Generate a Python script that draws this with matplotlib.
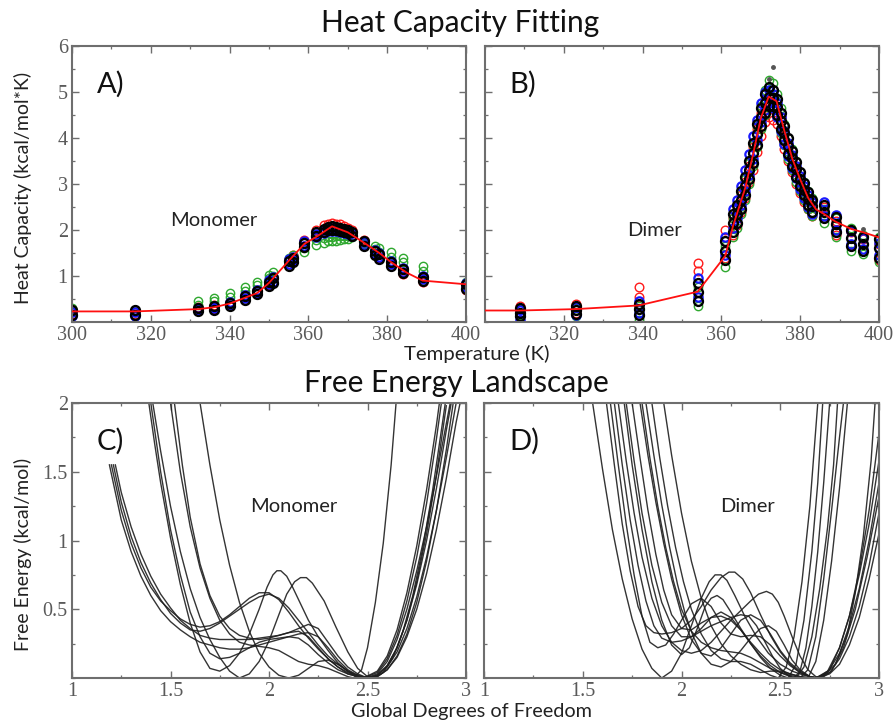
import numpy as np
import matplotlib
matplotlib.use("Agg")
import matplotlib.pyplot as plt
from matplotlib.ticker import MultipleLocator, FixedLocator, NullFormatter

# ---- heat capacity, monomer ----
t_mono = [300, 316, 332, 336, 340, 344, 347, 350, 351, 355, 356, 359, 362, 364,
          365, 366, 367, 368, 369, 370, 371, 374, 377, 378, 381, 384, 389, 400]
mono_black = [[0.26, 0.25, 0.31, 0.35, 0.42, 0.56, 0.68, 0.88, 0.95, 1.33, 1.40, 1.72, 1.95, 2.03,
               2.06, 2.08, 2.07, 2.05, 2.03, 2.00, 1.95, 1.75, 1.55, 1.48, 1.30, 1.15, 0.98, 0.82],
              [0.15, 0.16, 0.24, 0.27, 0.35, 0.48, 0.60, 0.78, 0.85, 1.22, 1.30, 1.62, 1.88, 1.96,
               2.00, 2.01, 2.00, 1.98, 1.96, 1.93, 1.88, 1.66, 1.45, 1.38, 1.22, 1.06, 0.90, 0.72]]
mono_blue = [[0.22, 0.21, 0.30, 0.33, 0.44, 0.58, 0.70, 0.92, 0.98, 1.36, 1.42, 1.75, 1.92, 2.00,
              2.04, 2.05, 2.05, 2.03, 2.01, 1.98, 1.93, 1.73, 1.57, 1.50, 1.33, 1.18, 1.00, 0.85],
             [0.12, 0.14, 0.26, 0.30, 0.38, 0.52, 0.64, 0.82, 0.88, 1.26, 1.34, 1.66, 1.85, 1.93,
              1.97, 1.98, 1.97, 1.95, 1.94, 1.91, 1.87, 1.68, 1.48, 1.41, 1.25, 1.09, 0.93, 0.75]]
mono_green = [[0.30, 0.27, 0.45, 0.53, 0.62, 0.76, 0.88, 1.02, 1.08, 1.40, 1.45, 1.52, 1.68, 1.72,
               1.75, 1.76, 1.77, 1.78, 1.80, 1.81, 1.84, 1.72, 1.65, 1.60, 1.52, 1.40, 1.22, 0.88],
              [0.25, 0.22, 0.38, 0.45, 0.55, 0.68, 0.80, 0.95, 1.00, 1.35, 1.38, 1.60, 1.78, 1.82,
               1.84, 1.85, 1.86, 1.87, 1.88, 1.88, 1.86, 1.70, 1.58, 1.52, 1.42, 1.30, 1.10, 0.80]]
mono_red = [[0.28, 0.27, 0.33, 0.36, 0.44, 0.58, 0.70, 0.90, 0.97, 1.38, 1.45, 1.78, 2.00, 2.10,
             2.13, 2.15, 2.14, 2.12, 2.09, 2.05, 2.00, 1.78, 1.55, 1.48, 1.30, 1.14, 0.96, 0.85],
            [0.18, 0.18, 0.25, 0.28, 0.36, 0.48, 0.60, 0.80, 0.86, 1.25, 1.32, 1.65, 1.90, 1.98,
             2.02, 2.04, 2.03, 2.01, 1.99, 1.95, 1.90, 1.68, 1.46, 1.40, 1.22, 1.05, 0.88, 0.70]]
fit_t_mono = [300, 316, 332, 336, 340, 344, 347, 350, 355, 359, 362, 366, 370, 374, 378, 381, 385, 389, 400]
fit_cp_mono = [0.23, 0.23, 0.28, 0.32, 0.40, 0.53, 0.63, 0.85, 1.33, 1.70, 1.85, 2.08, 1.95, 1.73,
               1.50, 1.30, 1.07, 0.90, 0.82]

# ---- heat capacity, dimer ----
t_dim = [309, 323, 339, 354, 361, 363, 364, 365, 366, 367, 368, 369, 370, 371, 372, 373,
         374, 375, 376, 377, 378, 379, 380, 381, 382, 383, 386, 389, 393, 396, 400]
dim_black = [[0.30, 0.35, 0.40, 0.85, 1.75, 2.35, 2.55, 2.85, 3.15, 3.50, 3.90, 4.30, 4.65, 4.95, 5.10, 5.05,
              4.85, 4.55, 4.25, 4.00, 3.72, 3.48, 3.25, 3.02, 2.82, 2.65, 2.55, 2.28, 2.00, 1.85, 1.80],
             [0.20, 0.26, 0.28, 0.65, 1.55, 2.15, 2.35, 2.65, 2.95, 3.30, 3.68, 4.08, 4.45, 4.75, 4.90, 4.88,
              4.68, 4.38, 4.10, 3.82, 3.56, 3.32, 3.10, 2.88, 2.68, 2.52, 2.40, 2.12, 1.82, 1.70, 1.60],
             [0.12, 0.18, 0.15, 0.45, 1.35, 1.95, 2.15, 2.45, 2.75, 3.10, 3.45, 3.85, 4.25, 4.55, 4.70, 4.70,
              4.50, 4.20, 3.95, 3.65, 3.40, 3.15, 2.95, 2.75, 2.55, 2.40, 2.25, 1.95, 1.65, 1.55, 1.40]]
dim_blue = [[0.25, 0.32, 0.45, 0.95, 1.85, 2.45, 2.65, 2.95, 3.30, 3.65, 4.05, 4.40, 4.75, 5.00, 5.05, 4.95,
             4.75, 4.45, 4.15, 3.90, 3.62, 3.40, 3.18, 2.95, 2.75, 2.60, 2.60, 2.32, 1.98, 1.82, 1.72],
            [0.05, 0.15, 0.20, 0.55, 1.45, 2.05, 2.25, 2.55, 2.85, 3.20, 3.55, 3.95, 4.35, 4.60, 4.75, 4.65,
             4.45, 4.15, 3.88, 3.60, 3.35, 3.12, 2.90, 2.70, 2.50, 2.35, 2.30, 2.00, 1.70, 1.58, 1.45]]
dim_green = [[0.28, 0.30, 0.35, 0.75, 1.65, 2.25, 2.50, 2.80, 3.10, 3.45, 3.85, 4.25, 4.70, 5.05, 5.25, 5.20,
              4.95, 4.65, 4.30, 4.00, 3.75, 3.50, 3.25, 3.05, 2.85, 2.70, 2.45, 2.25, 2.05, 1.90, 1.85],
             [0.15, 0.12, 0.05, 0.35, 1.20, 1.85, 2.05, 2.35, 2.65, 3.00, 3.40, 3.80, 4.20, 4.50, 4.70, 4.65,
              4.45, 4.10, 3.85, 3.55, 3.30, 3.05, 2.85, 2.65, 2.45, 2.30, 2.15, 1.85, 1.55, 1.48, 1.30]]
dim_red = [[0.35, 0.40, 0.75, 1.28, 2.00, 2.25, 2.50, 2.75, 3.05, 3.40, 3.80, 4.20, 4.55, 4.80, 4.90, 4.85,
            4.70, 4.45, 4.10, 3.80, 3.55, 3.35, 3.10, 2.85, 2.65, 2.50, 2.50, 2.20, 1.95, 1.80, 1.70],
           [0.00, 0.20, 0.55, 1.10, 1.40, 1.90, 2.10, 2.40, 2.70, 3.05, 3.30, 3.70, 4.05, 4.35, 4.45, 4.40,
            4.30, 4.05, 3.75, 3.50, 3.25, 3.00, 2.80, 2.60, 2.45, 2.30, 2.25, 1.90, 1.68, 1.55, 1.35]]
dim_extra_t = [372, 373, 396]
dim_extra_cp = [5.28, 5.55, 2.02]
fit_t_dim = [300, 309, 323, 339, 354, 361, 363, 366, 368, 370, 372, 374, 376, 378, 380, 382,
             384, 386, 389, 393, 396, 400]
fit_cp_dim = [0.25, 0.25, 0.28, 0.36, 0.66, 1.44, 2.10, 2.90, 3.63, 4.43, 4.90, 4.80, 4.15, 3.55,
              3.10, 2.70, 2.45, 2.35, 2.18, 2.02, 1.95, 1.84]

# ---- free energy profiles (x, G) ----
fe_mono = [
    [(1.20, 1.55), (1.25, 1.22), (1.30, 0.98), (1.35, 0.80), (1.40, 0.66), (1.45, 0.56), (1.50, 0.49),
     (1.55, 0.43), (1.60, 0.39), (1.65, 0.37), (1.70, 0.38), (1.75, 0.41), (1.80, 0.46), (1.85, 0.52),
     (1.90, 0.58), (1.95, 0.62), (2.00, 0.62), (2.05, 0.57), (2.10, 0.48), (2.15, 0.38), (2.20, 0.29),
     (2.25, 0.21), (2.30, 0.14), (2.35, 0.08), (2.40, 0.04), (2.45, 0.01), (2.49, 0.00), (2.55, 0.03),
     (2.60, 0.12), (2.65, 0.28), (2.70, 0.50), (2.75, 0.78), (2.80, 1.10), (2.85, 1.47), (2.90, 1.85),
     (2.92, 2.00)],
    [(1.21, 1.55), (1.25, 1.28), (1.30, 1.03), (1.35, 0.84), (1.40, 0.69), (1.45, 0.57), (1.50, 0.47),
     (1.55, 0.40), (1.60, 0.35), (1.65, 0.34), (1.70, 0.36), (1.75, 0.40), (1.80, 0.45), (1.85, 0.50),
     (1.90, 0.55), (1.95, 0.59), (2.00, 0.61), (2.05, 0.58), (2.10, 0.51), (2.15, 0.42), (2.20, 0.33),
     (2.25, 0.24), (2.30, 0.16), (2.35, 0.10), (2.40, 0.05), (2.45, 0.02), (2.50, 0.00), (2.55, 0.02),
     (2.60, 0.09), (2.65, 0.22), (2.70, 0.42), (2.75, 0.68), (2.80, 1.00), (2.85, 1.38), (2.90, 1.80),
     (2.925, 2.00)],
    [(1.22, 1.55), (1.25, 1.35), (1.30, 1.10), (1.35, 0.90), (1.40, 0.74), (1.45, 0.61), (1.50, 0.51),
     (1.55, 0.42), (1.60, 0.36), (1.65, 0.31), (1.70, 0.29), (1.75, 0.28), (1.80, 0.28), (1.85, 0.28),
     (1.90, 0.28), (1.95, 0.29), (2.00, 0.30), (2.05, 0.31), (2.10, 0.33), (2.15, 0.36), (2.20, 0.39),
     (2.25, 0.36), (2.30, 0.26), (2.35, 0.16), (2.40, 0.08), (2.45, 0.03), (2.50, 0.00), (2.55, 0.02),
     (2.60, 0.08), (2.65, 0.19), (2.70, 0.36), (2.75, 0.59), (2.80, 0.88), (2.85, 1.22), (2.90, 1.60),
     (2.95, 2.00)],
    [(1.19, 1.55), (1.25, 1.15), (1.30, 0.92), (1.35, 0.74), (1.40, 0.60), (1.45, 0.49), (1.50, 0.41),
     (1.55, 0.35), (1.60, 0.30), (1.65, 0.26), (1.70, 0.24), (1.75, 0.22), (1.80, 0.21), (1.85, 0.21),
     (1.90, 0.22), (1.95, 0.24), (2.00, 0.26), (2.05, 0.28), (2.10, 0.30), (2.15, 0.29), (2.20, 0.24),
     (2.25, 0.17), (2.30, 0.11), (2.35, 0.06), (2.40, 0.03), (2.45, 0.01), (2.50, 0.00), (2.55, 0.01),
     (2.60, 0.06), (2.65, 0.15), (2.70, 0.30), (2.75, 0.50), (2.80, 0.76), (2.85, 1.08), (2.90, 1.45),
     (2.95, 1.86), (2.97, 2.00)],
    [(1.39, 2.00), (1.42, 1.70), (1.45, 1.42), (1.50, 1.02), (1.55, 0.68), (1.60, 0.40), (1.65, 0.19),
     (1.70, 0.07), (1.75, 0.05), (1.80, 0.09), (1.85, 0.18), (1.90, 0.32), (1.95, 0.50), (1.99, 0.66),
     (2.02, 0.75), (2.04, 0.78), (2.06, 0.78), (2.09, 0.74), (2.12, 0.66), (2.16, 0.54), (2.20, 0.42),
     (2.25, 0.30), (2.30, 0.20), (2.35, 0.11), (2.40, 0.05), (2.45, 0.01), (2.48, 0.00), (2.55, 0.05),
     (2.60, 0.16), (2.65, 0.35), (2.70, 0.62), (2.75, 0.96), (2.80, 1.37), (2.85, 1.84), (2.865, 2.00)],
    [(1.41, 2.00), (1.45, 1.65), (1.50, 1.25), (1.55, 0.92), (1.60, 0.65), (1.65, 0.44), (1.70, 0.28),
     (1.75, 0.15), (1.80, 0.05), (1.85, 0.00), (1.90, 0.03), (1.95, 0.12), (2.00, 0.27), (2.05, 0.46),
     (2.09, 0.61), (2.13, 0.70), (2.16, 0.73), (2.19, 0.73), (2.22, 0.69), (2.28, 0.56), (2.34, 0.37),
     (2.40, 0.19), (2.45, 0.07), (2.50, 0.01), (2.53, 0.00), (2.58, 0.04), (2.63, 0.15), (2.68, 0.34),
     (2.73, 0.60), (2.78, 0.94), (2.83, 1.36), (2.88, 1.85), (2.895, 2.00)],
    [(1.50, 2.00), (1.55, 1.50), (1.60, 1.10), (1.65, 0.80), (1.70, 0.58), (1.75, 0.42), (1.80, 0.32),
     (1.85, 0.26), (1.90, 0.24), (1.95, 0.23), (2.00, 0.22), (2.05, 0.20), (2.10, 0.16), (2.15, 0.12),
     (2.20, 0.10), (2.25, 0.09), (2.30, 0.07), (2.35, 0.04), (2.40, 0.01), (2.43, 0.00), (2.47, 0.06),
     (2.50, 0.22), (2.54, 0.55), (2.58, 0.98), (2.62, 1.55), (2.645, 2.00)],
    [(1.52, 2.00), (1.56, 1.55), (1.60, 1.17), (1.65, 0.83), (1.70, 0.60), (1.75, 0.45), (1.80, 0.36),
     (1.85, 0.31), (1.90, 0.29), (1.95, 0.28), (2.00, 0.29), (2.05, 0.31), (2.10, 0.33), (2.15, 0.34),
     (2.20, 0.30), (2.25, 0.22), (2.30, 0.14), (2.35, 0.08), (2.40, 0.03), (2.45, 0.01), (2.48, 0.00),
     (2.55, 0.04), (2.60, 0.14), (2.65, 0.31), (2.70, 0.56), (2.75, 0.88), (2.80, 1.27), (2.85, 1.74),
     (2.875, 2.00)],
    [(1.65, 2.00), (1.70, 1.55), (1.75, 1.15), (1.80, 0.82), (1.85, 0.55), (1.90, 0.34), (1.95, 0.18),
     (2.00, 0.08), (2.05, 0.02), (2.10, 0.00), (2.15, 0.02), (2.20, 0.07), (2.25, 0.12), (2.30, 0.13),
     (2.35, 0.10), (2.40, 0.05), (2.45, 0.01), (2.50, 0.00), (2.55, 0.02), (2.60, 0.09), (2.65, 0.22),
     (2.70, 0.42), (2.75, 0.70), (2.80, 1.05), (2.85, 1.48), (2.90, 1.98)],
    [(1.40, 2.00), (1.45, 1.50), (1.50, 1.08), (1.55, 0.75), (1.60, 0.48), (1.65, 0.30), (1.70, 0.18),
     (1.75, 0.14), (1.80, 0.15), (1.85, 0.18), (1.90, 0.22), (1.95, 0.26), (2.00, 0.28), (2.05, 0.29),
     (2.10, 0.30), (2.15, 0.32), (2.20, 0.33), (2.25, 0.30), (2.30, 0.22), (2.35, 0.13), (2.40, 0.06),
     (2.45, 0.02), (2.50, 0.00), (2.55, 0.01), (2.60, 0.06), (2.65, 0.16), (2.70, 0.32), (2.75, 0.55),
     (2.80, 0.85), (2.85, 1.22), (2.90, 1.66), (2.935, 2.00)],
]

fe_dim = [
    [(1.55, 2.00), (1.60, 1.52), (1.65, 1.08), (1.70, 0.72), (1.75, 0.43), (1.80, 0.21), (1.85, 0.07),
     (1.90, 0.00), (1.95, 0.05), (2.00, 0.18), (2.05, 0.38), (2.10, 0.58), (2.14, 0.70), (2.17, 0.75),
     (2.20, 0.75), (2.23, 0.71), (2.27, 0.60), (2.32, 0.45), (2.38, 0.30), (2.44, 0.18), (2.50, 0.10),
     (2.56, 0.05), (2.62, 0.02), (2.68, 0.00), (2.74, 0.04), (2.80, 0.18), (2.85, 0.38), (2.90, 0.65),
     (2.95, 1.00), (3.00, 1.42)],
    [(1.62, 2.00), (1.66, 1.55), (1.70, 1.12), (1.74, 0.78), (1.78, 0.52), (1.82, 0.38), (1.86, 0.33),
     (1.90, 0.32), (1.95, 0.33), (2.00, 0.36), (2.05, 0.42), (2.10, 0.52), (2.15, 0.64), (2.20, 0.73),
     (2.24, 0.77), (2.27, 0.77), (2.31, 0.72), (2.35, 0.62), (2.40, 0.46), (2.45, 0.31), (2.50, 0.19),
     (2.55, 0.10), (2.60, 0.04), (2.65, 0.01), (2.68, 0.00), (2.74, 0.05), (2.80, 0.22), (2.85, 0.45),
     (2.90, 0.78), (2.95, 1.22), (3.00, 1.78)],
    [(1.66, 2.00), (1.70, 1.55), (1.74, 1.15), (1.78, 0.82), (1.82, 0.56), (1.86, 0.38), (1.90, 0.29),
     (1.95, 0.26), (2.00, 0.27), (2.05, 0.30), (2.10, 0.34), (2.15, 0.38), (2.20, 0.41), (2.25, 0.44),
     (2.30, 0.46), (2.34, 0.45), (2.38, 0.38), (2.42, 0.27), (2.46, 0.16), (2.50, 0.07), (2.54, 0.02),
     (2.57, 0.00), (2.60, 0.05), (2.63, 0.22), (2.66, 0.52), (2.69, 0.92), (2.72, 1.42), (2.75, 2.00)],
    [(1.68, 2.00), (1.72, 1.58), (1.76, 1.20), (1.80, 0.88), (1.85, 0.58), (1.90, 0.38), (1.95, 0.26),
     (2.00, 0.20), (2.05, 0.18), (2.10, 0.20), (2.15, 0.26), (2.20, 0.34), (2.25, 0.42), (2.30, 0.49),
     (2.35, 0.56), (2.39, 0.61), (2.43, 0.63), (2.46, 0.61), (2.49, 0.55), (2.52, 0.45), (2.56, 0.30),
     (2.60, 0.16), (2.64, 0.06), (2.68, 0.01), (2.71, 0.00), (2.76, 0.05), (2.82, 0.22), (2.88, 0.50),
     (2.94, 0.88), (3.00, 1.32)],
    [(1.71, 2.00), (1.75, 1.55), (1.80, 1.08), (1.85, 0.70), (1.90, 0.42), (1.95, 0.24), (2.00, 0.17),
     (2.04, 0.22), (2.08, 0.36), (2.12, 0.52), (2.15, 0.58), (2.18, 0.60), (2.21, 0.57), (2.25, 0.48),
     (2.30, 0.36), (2.35, 0.25), (2.40, 0.15), (2.45, 0.07), (2.50, 0.02), (2.54, 0.00), (2.58, 0.10),
     (2.62, 0.42), (2.66, 0.92), (2.69, 1.42), (2.715, 2.00)],
    [(1.72, 2.00), (1.76, 1.58), (1.80, 1.20), (1.85, 0.82), (1.90, 0.55), (1.95, 0.38), (2.00, 0.30),
     (2.05, 0.30), (2.10, 0.36), (2.15, 0.44), (2.20, 0.48), (2.25, 0.44), (2.30, 0.35), (2.35, 0.25),
     (2.40, 0.16), (2.45, 0.09), (2.50, 0.04), (2.55, 0.01), (2.58, 0.00), (2.62, 0.08), (2.66, 0.30),
     (2.70, 0.65), (2.74, 1.10), (2.77, 1.55), (2.79, 2.00)],
    [(1.79, 2.00), (1.83, 1.62), (1.87, 1.28), (1.91, 0.98), (1.95, 0.72), (2.00, 0.46), (2.05, 0.28),
     (2.10, 0.18), (2.15, 0.16), (2.20, 0.22), (2.25, 0.32), (2.30, 0.42), (2.35, 0.46), (2.40, 0.42),
     (2.45, 0.32), (2.50, 0.20), (2.55, 0.11), (2.60, 0.05), (2.65, 0.01), (2.69, 0.00), (2.75, 0.03),
     (2.80, 0.10), (2.85, 0.24), (2.90, 0.44), (2.95, 0.72), (3.00, 1.05)],
    [(1.80, 2.00), (1.84, 1.60), (1.88, 1.25), (1.92, 0.95), (1.96, 0.70), (2.00, 0.50), (2.05, 0.34),
     (2.10, 0.26), (2.15, 0.22), (2.20, 0.20), (2.25, 0.19), (2.30, 0.18), (2.35, 0.15), (2.40, 0.11),
     (2.45, 0.07), (2.50, 0.04), (2.55, 0.02), (2.60, 0.00), (2.64, 0.06), (2.68, 0.30), (2.72, 0.72),
     (2.76, 1.22), (2.80, 1.75), (2.82, 2.00)],
    [(1.82, 2.00), (1.86, 1.62), (1.90, 1.26), (1.94, 0.95), (1.98, 0.68), (2.02, 0.46), (2.06, 0.30),
     (2.10, 0.18), (2.15, 0.10), (2.20, 0.08), (2.25, 0.12), (2.30, 0.20), (2.35, 0.29), (2.40, 0.36),
     (2.44, 0.38), (2.48, 0.34), (2.52, 0.24), (2.56, 0.13), (2.60, 0.06), (2.65, 0.01), (2.69, 0.00),
     (2.75, 0.04), (2.80, 0.14), (2.85, 0.30), (2.90, 0.52), (2.95, 0.82), (3.00, 1.20)],
    [(1.91, 2.00), (1.95, 1.62), (2.00, 1.20), (2.05, 0.85), (2.10, 0.58), (2.15, 0.38), (2.20, 0.25),
     (2.25, 0.16), (2.30, 0.10), (2.35, 0.06), (2.40, 0.04), (2.45, 0.05), (2.50, 0.05), (2.55, 0.03),
     (2.60, 0.01), (2.64, 0.00), (2.68, 0.12), (2.72, 0.42), (2.76, 0.85), (2.80, 1.38), (2.84, 2.00)],
    [(1.64, 2.00), (1.68, 1.55), (1.72, 1.12), (1.76, 0.75), (1.80, 0.45), (1.84, 0.26), (1.88, 0.22),
     (1.92, 0.24), (1.96, 0.32), (2.00, 0.42), (2.05, 0.54), (2.10, 0.58), (2.15, 0.52), (2.20, 0.40),
     (2.25, 0.32), (2.30, 0.30), (2.35, 0.31), (2.40, 0.30), (2.45, 0.24), (2.50, 0.16), (2.55, 0.09),
     (2.60, 0.04), (2.65, 0.01), (2.69, 0.00), (2.75, 0.06), (2.80, 0.22), (2.85, 0.45), (2.90, 0.75),
     (2.95, 1.12), (3.00, 1.58)],
    [(1.75, 2.00), (1.79, 1.60), (1.83, 1.22), (1.87, 0.90), (1.91, 0.64), (1.95, 0.46), (2.00, 0.36),
     (2.05, 0.35), (2.10, 0.40), (2.15, 0.44), (2.20, 0.45), (2.25, 0.42), (2.30, 0.35), (2.35, 0.26),
     (2.40, 0.18), (2.45, 0.11), (2.50, 0.06), (2.55, 0.03), (2.60, 0.01), (2.67, 0.00), (2.72, 0.02),
     (2.78, 0.10), (2.84, 0.32), (2.88, 0.62), (2.92, 1.02), (2.96, 1.58), (2.98, 2.00)],
    [(1.85, 2.00), (1.89, 1.60), (1.93, 1.25), (1.97, 0.95), (2.01, 0.70), (2.05, 0.50), (2.10, 0.32),
     (2.15, 0.20), (2.20, 0.14), (2.25, 0.12), (2.30, 0.12), (2.35, 0.10), (2.40, 0.06), (2.45, 0.02),
     (2.49, 0.00), (2.53, 0.08), (2.57, 0.30), (2.61, 0.70), (2.65, 1.25), (2.69, 2.00)],
]

SANS = ["Lato", "DejaVu Sans"]
SERIF = ["Liberation Serif", "DejaVu Serif"]
TICK_GREY = "#5a5a5a"
SPINE_GREY = "#6e6e6e"

W, H = 896, 724
fig = plt.figure(figsize=(W / 100, H / 100), dpi=100)


def box(x0, y0, x1, y1):
    # pixel box -> figure fraction rect
    return [x0 / W, 1 - y1 / H, (x1 - x0) / W, (y1 - y0) / H]


ax_a = fig.add_axes(box(72, 46, 466, 322))
ax_b = fig.add_axes(box(485, 46, 879, 322))
ax_c = fig.add_axes(box(72, 403, 466, 678))
ax_d = fig.add_axes(box(484, 403, 879, 678))


def style(ax):
    for s in ax.spines.values():
        s.set_color(SPINE_GREY)
        s.set_linewidth(1.5)
    ax.tick_params(which="both", direction="in", top=True, right=True,
                   color=SPINE_GREY, labelcolor=TICK_GREY, labelsize=14.5, pad=3)
    ax.tick_params(which="major", length=5, width=1.0)
    ax.tick_params(which="minor", length=2.5, width=0.9)
    for lab in ax.get_xticklabels() + ax.get_yticklabels():
        lab.set_family(SERIF)


def heat_panel(ax, t, rows_red, rows_green, rows_blue, rows_black, fit_t, fit_cp):
    kw = dict(ls="none", marker="o", mfc="none")
    for rows, col, ms, mew in [(rows_red, "#ff1a1a", 6.2, 1.0), (rows_green, "#2fa82f", 6.0, 1.0),
                               (rows_blue, "#1a1aff", 6.0, 1.6), (rows_black, "#000000", 6.4, 1.7)]:
        for r in rows:
            ax.plot(t, r, mec=col, ms=ms, mew=mew, **kw)
    ax.plot(fit_t, fit_cp, color="#ff1010", lw=1.3, zorder=5)
    ax.set_xlim(300, 400)
    ax.set_ylim(0, 6)
    ax.xaxis.set_major_locator(FixedLocator([300, 320, 340, 360, 380, 400]))
    ax.xaxis.set_minor_locator(MultipleLocator(10))
    ax.yaxis.set_major_locator(FixedLocator([1, 2, 3, 4, 5, 6]))
    ax.yaxis.set_minor_locator(MultipleLocator(0.5))


def fe_panel(ax, curves):
    for c in curves:
        xs = [p[0] for p in c]
        ys = [p[1] for p in c]
        ax.plot(xs, ys, color="#1e1e1e", lw=1.0, alpha=0.9, solid_joinstyle="round")
    ax.set_xlim(1, 3)
    ax.set_ylim(0, 2)
    ax.xaxis.set_major_locator(FixedLocator([1, 1.5, 2, 2.5, 3]))
    ax.xaxis.set_minor_locator(MultipleLocator(0.25))
    ax.yaxis.set_major_locator(FixedLocator([0.5, 1, 1.5, 2]))
    ax.yaxis.set_minor_locator(MultipleLocator(0.25))
    ax.set_xticklabels(["1", "1.5", "2", "2.5", "3"])


heat_panel(ax_a, t_mono, mono_red, mono_green, mono_blue, mono_black, fit_t_mono, fit_cp_mono)
heat_panel(ax_b, t_dim, dim_red, dim_green, dim_blue, dim_black, fit_t_dim, fit_cp_dim)
ax_b.plot(dim_extra_t, dim_extra_cp, ls="none", marker="o", ms=2.5, color="#555555")
ax_b.xaxis.set_major_locator(FixedLocator([320, 340, 360, 380, 400]))
ax_b.yaxis.set_major_formatter(NullFormatter())

fe_panel(ax_c, fe_mono)
fe_panel(ax_d, fe_dim)
ax_c.set_yticklabels(["0.5", "1", "1.5", "2"])
ax_d.yaxis.set_major_formatter(NullFormatter())

for ax in (ax_a, ax_b, ax_c, ax_d):
    style(ax)

# panel tags and system names
for ax, tag in [(ax_a, "A)"), (ax_b, "B)"), (ax_c, "C)"), (ax_d, "D)")]:
    ax.text(0.063, 0.86, tag, transform=ax.transAxes, fontsize=21,
            family=SANS, color="#111111", va="center", ha="left")
ax_a.text(0.361, 0.366, "Monomer", transform=ax_a.transAxes, fontsize=14.5,
          family=SANS, color="#222222", ha="center", va="center")
ax_b.text(0.431, 0.333, "Dimer", transform=ax_b.transAxes, fontsize=14.5,
          family=SANS, color="#222222", ha="center", va="center")
ax_c.text(0.563, 0.625, "Monomer", transform=ax_c.transAxes, fontsize=14.5,
          family=SANS, color="#222222", ha="center", va="center")
ax_d.text(0.668, 0.625, "Dimer", transform=ax_d.transAxes, fontsize=14.5,
          family=SANS, color="#222222", ha="center", va="center")

# shared titles and axis labels
fig.text(460 / W, 1 - 23 / H, "Heat Capacity Fitting", fontsize=21.5,
         family=SANS, ha="center", va="center", color="#111111")
fig.text(456 / W, 1 - 383 / H, "Free Energy Landscape", fontsize=21.5,
         family=SANS, ha="center", va="center", color="#111111")
fig.text(477 / W, 1 - 354 / H, "Temperature (K)", fontsize=14.7,
         family=SANS, ha="center", va="center", color="#222222")
fig.text(471 / W, 1 - 712 / H, "Global Degrees of Freedom", fontsize=14.3,
         family=SANS, ha="center", va="center", color="#222222")
fig.text(23 / W, 1 - 188 / H, "Heat Capacity (kcal/mol*K)", fontsize=14,
         family=SANS, ha="center", va="center", rotation=90, color="#222222")
fig.text(23 / W, 1 - 554 / H, "Free Energy (kcal/mol)", fontsize=14,
         family=SANS, ha="center", va="center", rotation=90, color="#222222")

fig.savefig("out.png", dpi=100)
